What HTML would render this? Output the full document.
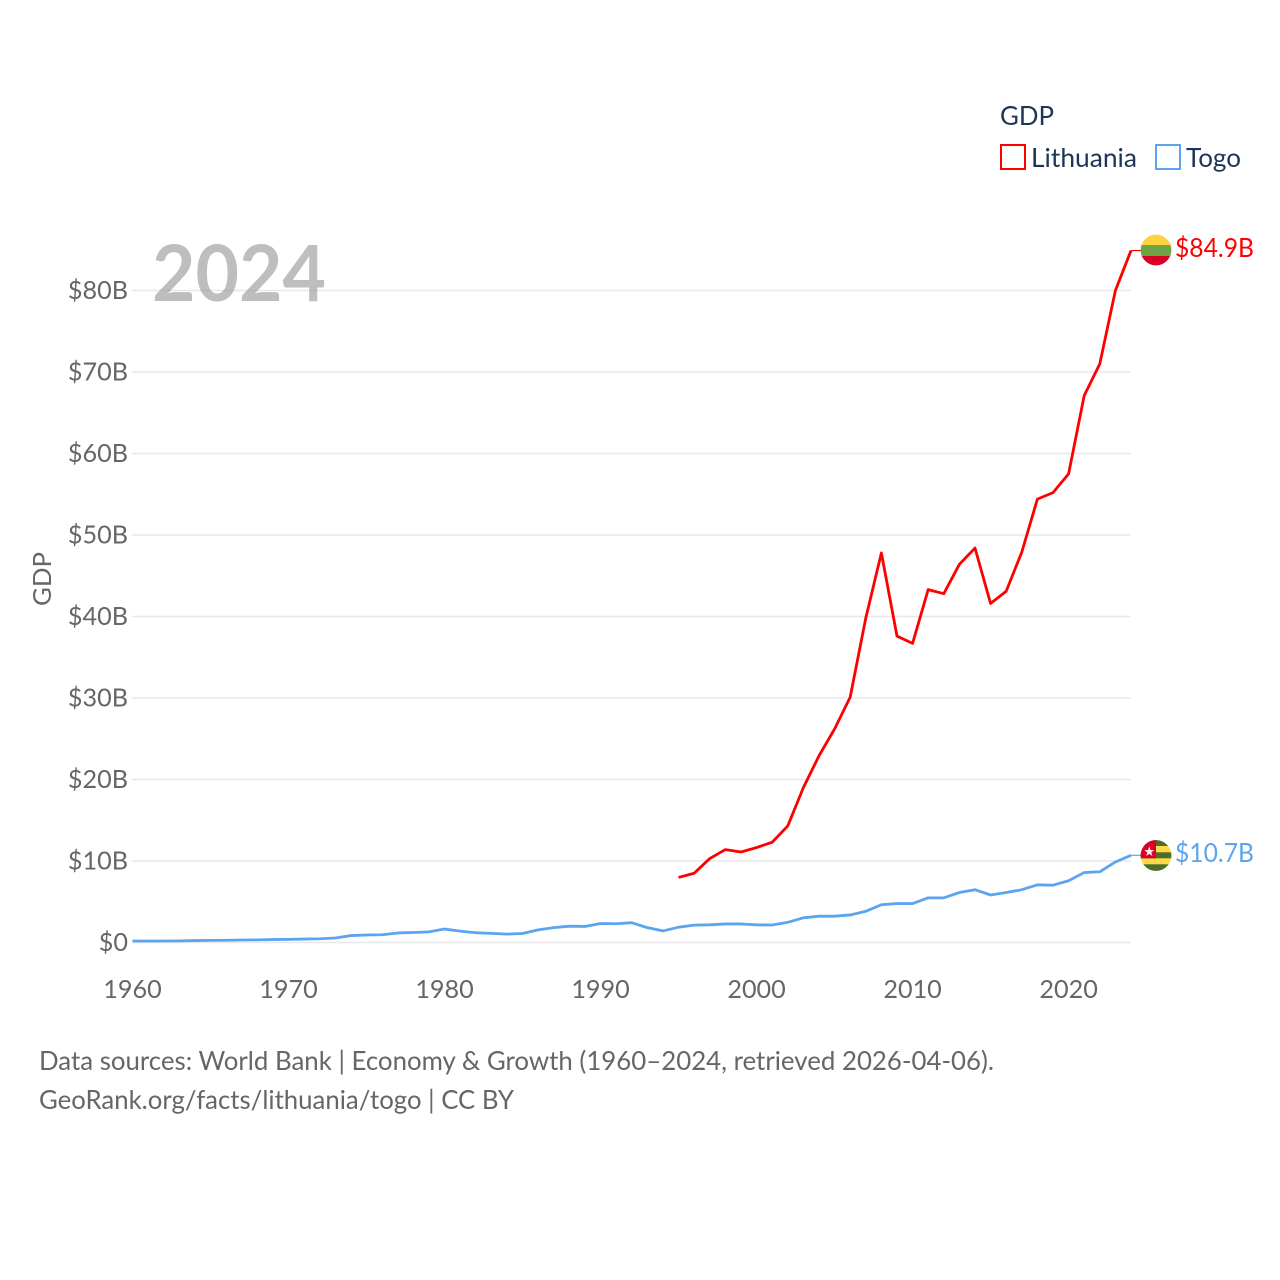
<!DOCTYPE html>
<html lang="en">
<head>
<meta charset="utf-8">
<title>GDP: Lithuania and Togo</title>
<style>
html,body{margin:0;padding:0;background:#fff;}
svg{display:block;}
text{font-family:"Lato","Carlito","Liberation Sans",sans-serif;}
</style>
</head>
<body>
<svg id="chart" xmlns="http://www.w3.org/2000/svg" width="1280" height="1280" viewBox="0 0 1280 1280">
  <defs>
    <clipPath id="flag-clip-lt"><circle cx="1156" cy="250" r="15.400"/></clipPath>
    <clipPath id="flag-clip-tg"><circle cx="1156" cy="855.500" r="15.400"/></clipPath>
  </defs>
  <g id="grid"></g>
  <g id="yticks"></g>
  <g id="xticks"></g>
  <text x="152" y="301" font-size="78" font-weight="700" fill="#888" fill-opacity="0.55" textLength="174" lengthAdjust="spacingAndGlyphs">2024</text>
  <text transform="translate(51,579) rotate(-90)" text-anchor="middle" font-size="25" fill="#666" textLength="54" lengthAdjust="spacingAndGlyphs">GDP</text>
  <g id="series"></g>

  <g>
    <text x="1000" y="125" font-size="26" fill="#1d3557" textLength="54" lengthAdjust="spacingAndGlyphs">GDP</text>
    <g>
      <rect x="1001" y="145" width="24" height="24" fill="none" stroke="#ff0000" stroke-width="2"/>
      <text x="1031" y="167" font-size="26" fill="#1d3557" textLength="106" lengthAdjust="spacingAndGlyphs">Lithuania</text>
    </g>
    <g>
      <rect x="1156" y="145" width="24" height="24" fill="none" stroke="#5ba4ef" stroke-width="2"/>
      <text x="1186" y="167" font-size="26" fill="#1d3557" textLength="55" lengthAdjust="spacingAndGlyphs">Togo</text>
    </g>
  </g>

  <g clip-path="url(#flag-clip-lt)">
    <rect x="1140" y="234" width="32" height="11" fill="#ffd33f"/>
    <rect x="1140" y="245" width="32" height="11" fill="#6da544"/>
    <rect x="1140" y="256" width="32" height="11" fill="#d80027"/>
  </g>
  <text x="1175" y="257" font-size="26" fill="#ff0000" textLength="79" lengthAdjust="spacingAndGlyphs">$84.9B</text>

  <g clip-path="url(#flag-clip-tg)">
    <rect x="1140" y="840" width="32" height="32" fill="#ffda44"/>
    <rect x="1140" y="840" width="32" height="6" fill="#496e2d"/>
    <rect x="1140" y="852.300" width="32" height="6" fill="#496e2d"/>
    <rect x="1140" y="864.300" width="32" height="7" fill="#496e2d"/>
    <rect x="1140" y="840" width="16" height="18.300" fill="#d80027"/>
    <polygon points="1149.300,846.500 1150.600,850 1154.300,850.100 1151.300,852.400 1152.400,856 1149.300,853.900 1146.200,856 1147.300,852.400 1144.300,850.100 1148,850" fill="#f0f0f0"/>
  </g>
  <text x="1175" y="862" font-size="26" fill="#5ba4ef" textLength="79" lengthAdjust="spacingAndGlyphs">$10.7B</text>

  <text x="39" y="1070" font-size="26" fill="#666" textLength="955" lengthAdjust="spacingAndGlyphs">Data sources: World Bank | Economy &amp; Growth (1960–2024, retrieved 2026-04-06).</text>
  <text x="39" y="1109" font-size="26" fill="#666" textLength="475" lengthAdjust="spacingAndGlyphs">GeoRank.org/facts/lithuania/togo | CC BY</text>
</svg>
<script>
const yTickValues = [0, 10, 20, 30, 40, 50, 60, 70, 80];
const xTickYears = [1960, 1970, 1980, 1990, 2000, 2010, 2020];
const togoStartYear = 1960;
const togoValues = [0.18,0.18,0.18,0.2,0.24,0.26,0.28,0.31,0.32,0.36,0.38,0.42,0.46,0.55,0.85,0.92,0.95,1.17,1.23,1.3,1.65,1.4,1.2,1.12,1.03,1.1,1.55,1.83,2.0,1.97,2.33,2.3,2.43,1.82,1.42,1.88,2.13,2.17,2.28,2.28,2.16,2.15,2.48,3.03,3.23,3.23,3.38,3.83,4.63,4.78,4.78,5.48,5.48,6.13,6.48,5.83,6.13,6.48,7.08,7.03,7.58,8.58,8.68,9.88,10.7];
const lithuaniaStartYear = 1995;
const lithuaniaValues = [7.98,8.5,10.3,11.4,11.1,11.65,12.3,14.3,19,22.9,26.2,30.1,39.8,47.8,37.6,36.7,43.3,42.8,46.4,48.4,41.6,43.1,47.9,54.4,55.2,57.5,67.1,71,80,84.9];

const SVG_NS = 'http://www.w3.org/2000/svg';
function xScale(year) { return 132.5 + (year - 1960) * (1131 - 132.5) / 64; }
function yScale(value) { return 942.5 - value * (942.5 - 290.5) / 80; }
function make(tag, attrs, parent, text) {
  const el = document.createElementNS(SVG_NS, tag);
  for (const k in attrs) el.setAttribute(k, attrs[k]);
  if (text !== undefined) el.textContent = text;
  parent.appendChild(el);
  return el;
}
const grid = document.getElementById('grid');
const yticks = document.getElementById('yticks');
const xticks = document.getElementById('xticks');
const series = document.getElementById('series');

yTickValues.forEach(function (v) {
  const y = yScale(v);
  const line = make('line', {x1: 132, x2: 1131, y1: y, y2: y, stroke: '#e8e8e8', 'stroke-width': 1.5}, grid);
  
  
  const label = make('text', {x: 128, y: y + 8.5, 'text-anchor': 'end', 'font-size': 25.2, fill: '#666'}, yticks, v === 0 ? '$0' : '$' + v + 'B');
  
  
});
xTickYears.forEach(function (yr) {
  const label = make('text', {x: xScale(yr), y: 998, 'text-anchor': 'middle', 'font-size': 25.2, fill: '#666'}, xticks, String(yr));
  
  
});
function drawSeries(values, startYear, color, name) {
  const pts = values.map(function (v, i) { return xScale(startYear + i).toFixed(2) + ',' + yScale(v).toFixed(2); });
  const last = values[values.length - 1];
  const lastYear = startYear + values.length - 1;
  const connector = make('line', {x1: xScale(lastYear), x2: xScale(lastYear) + 10, y1: yScale(last), y2: yScale(last), stroke: color, 'stroke-width': 1.2}, series);
  
  
  const line = make('polyline', {points: pts.join(' '), fill: 'none', stroke: color, 'stroke-width': 2.8, 'stroke-linejoin': 'round'}, series);
  
  
}
drawSeries(togoValues, togoStartYear, '#5ba4ef', 'togo');
drawSeries(lithuaniaValues, lithuaniaStartYear, '#ff0000', 'lithuania');
</script>
</body>
</html>
